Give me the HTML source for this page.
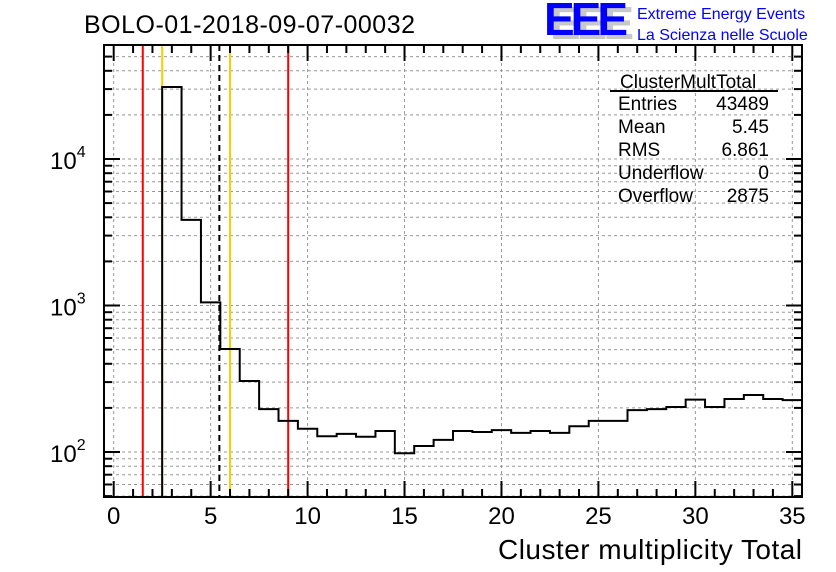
<!DOCTYPE html>
<html><head><meta charset="utf-8"><style>
body{margin:0;background:#fff;}
svg{display:block;font-family:"Liberation Sans",sans-serif;}
</style></head><body>
<svg id="chart" width="836" height="572">
<g id="grid"></g>
<g id="marks"></g>
<g id="axes"></g>
<text x="84" y="33" font-size="25" textLength="331" fill="#000">BOLO-01-2018-09-07-00032</text>
<g>
<text x="550" y="39" font-size="46" font-weight="bold" fill="#c8c8c8" textLength="84">EEE</text>
<text x="544" y="35" font-size="46" font-weight="bold" fill="#0000ff" textLength="84">EEE</text>
<text x="637" y="19" font-size="16" fill="#0000ff">Extreme Energy Events</text>
<text x="637" y="40" font-size="16" fill="#0000ff">La Scienza nelle Scuole</text>
</g>
<g font-size="19" fill="#000">
<text x="620" y="88">ClusterMultTotal</text>
<line x1="610" y1="91" x2="778" y2="91" stroke="#000" stroke-width="2"/>
<text x="618" y="110">Entries</text><text x="769" y="110" text-anchor="end">43489</text>
<text x="618" y="133">Mean</text><text x="769" y="133" text-anchor="end">5.45</text>
<text x="618" y="156">RMS</text><text x="769" y="156" text-anchor="end">6.861</text>
<text x="618" y="179">Underflow</text><text x="769" y="179" text-anchor="end">0</text>
<text x="618" y="202">Overflow</text><text x="769" y="202" text-anchor="end">2875</text>
</g>
<text x="802" y="559" font-size="28" textLength="304" text-anchor="end">Cluster multiplicity Total</text>
</svg>
<script>
const bins=[3,4,5,6,7,8,9,10,11,12,13,14,15,16,17,18,19,20,21,22,23,24,25,26,27,28,29,30,31,32,33,34,35];
const counts=[31000,3840,1050,505,305,196,163,144,128,133,127,139,98,110,121,139,137,141,135,139,135,150,163,163,193,196,203,228,203,230,245,230,226];
const xTicks=[0,5,10,15,20,25,30,35];
const yDecades=[2,3,4];
const cutLines=[{v:1.5,c:"#ff0000",n:"red-cut-low"},{v:9,c:"#ff0000",n:"red-cut-high"},{v:2.5,c:"#ffcc00",n:"orange-cut-low"},{v:6,c:"#ffcc00",n:"orange-cut-high"}];
const meanVal=5.45;
const L=104,R=802,T=45,B=497,xmin=-0.5,xmax=35.5;
const ymin=Math.log10(49.3),ymax=Math.log10(60000);
const X=v=>L+(v-xmin)/(xmax-xmin)*(R-L);
const Y=v=>B-(Math.log10(v)-ymin)/(ymax-ymin)*(B-T);
const NS="http://www.w3.org/2000/svg";
function mk(p,t,a){const e=document.createElementNS(NS,t);for(const k in a)e.setAttribute(k,a[k]);p.appendChild(e);return e;}
const grid=document.getElementById('grid'),marks=document.getElementById('marks'),axes=document.getElementById('axes');
xTicks.forEach(v=>{const l=mk(grid,'line',{x1:X(v),x2:X(v),y1:T,y2:B,stroke:'#999','stroke-dasharray':'3,3'});

});
for(let d=1;d<=4;d++)for(let m=1;m<10;m++){const v=m*Math.pow(10,d);if(v<49.3||v>60000)continue;const y=Y(v);
const l=mk(grid,'line',{x1:L,x2:R,y1:y,y2:y,stroke:'#999','stroke-dasharray':'3,3'});


[[L,L+(m==1?16:8)],[R,R-(m==1?16:8)]].forEach(p=>{const t=mk(axes,'line',{x1:p[0],x2:p[1],y1:y,y2:y,stroke:'#000','stroke-width':2});

});}
cutLines.forEach(c=>{const l=mk(marks,'line',{x1:X(c.v),x2:X(c.v),y1:T,y2:B,stroke:c.c,'stroke-width':2});

});
const ml=mk(marks,'line',{x1:X(meanVal),x2:X(meanVal),y1:T,y2:B,stroke:'#000','stroke-width':2,'stroke-dasharray':'6,4'});


let d=`M${X(bins[0]-0.5)},${B}`;
bins.forEach((b,i)=>{d+=` L${X(b-0.5)},${Y(counts[i])} L${X(b+0.5)},${Y(counts[i])}`;});
const h=mk(marks,'path',{d:d,fill:'none',stroke:'#000','stroke-width':2});


const fr=mk(axes,'rect',{x:L,y:T,width:R-L,height:B-T,fill:'none',stroke:'#000','stroke-width':2});


for(let v=0;v<=35;v++){const big=v%5==0,len=big?16:8;
[[B,B-len],[T,T+len]].forEach(p=>{const t=mk(axes,'line',{x1:X(v),x2:X(v),y1:p[0],y2:p[1],stroke:'#000','stroke-width':2});

});}
xTicks.forEach(v=>{const t=mk(axes,'text',{x:X(v),y:524,'font-size':24,'text-anchor':'middle'});t.textContent=v;

});
yDecades.forEach(p=>{const y=Y(Math.pow(10,p));const t=mk(axes,'text',{x:50,y:y+10,'font-size':24});t.textContent='10';


const s=mk(t,'tspan',{dy:-12,'font-size':16});s.textContent=p;});
</script>
</body></html>
